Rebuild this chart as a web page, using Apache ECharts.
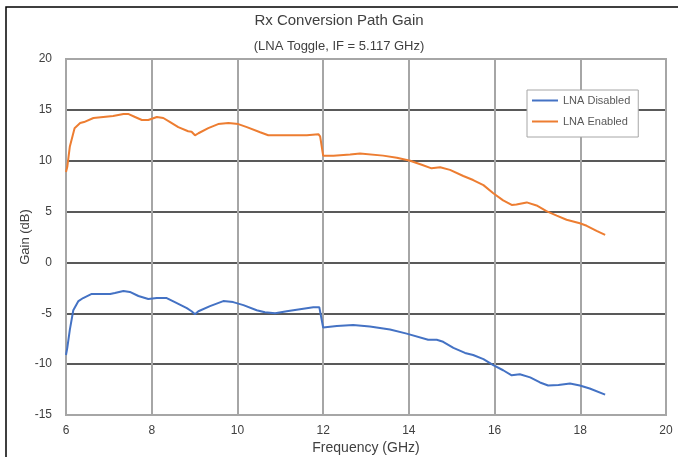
<!DOCTYPE html>
<html>
<head>
<meta charset="utf-8">
<title>Rx Conversion Path Gain</title>
<script src="https://cdn.jsdelivr.net/npm/echarts@6/dist/echarts.min.js"></script>
<style>
  html, body { margin: 0; padding: 0; background: #fff; }
  #chart { width: 678px; height: 457px; }
</style>
</head>
<body>
<div id="chart"></div>
<script>
// data (GHz, dB)
var enabledFreq = [6.0, 6.03, 6.09, 6.2, 6.33, 6.42, 6.64, 6.87, 7.1, 7.34, 7.45, 7.61, 7.77, 7.92, 8.12, 8.27, 8.43, 8.62, 8.85, 8.93, 9.01, 9.09, 9.32, 9.55, 9.79, 10.02, 10.22, 10.53, 10.72, 11.15, 11.62, 11.89, 11.93, 12.0, 12.24, 12.63, 12.86, 13.4, 13.72, 14.03, 14.3, 14.53, 14.73, 14.96, 15.27, 15.5, 15.74, 15.97, 16.2, 16.4, 16.51, 16.75, 16.98, 17.21, 17.45, 17.68, 17.99, 18.15, 18.38, 18.58];
var enabledGain = [8.9, 9.4, 11.4, 13.2, 13.7, 13.8, 14.2, 14.3, 14.4, 14.6, 14.6, 14.3, 14.0, 14.0, 14.3, 14.2, 13.8, 13.3, 12.9, 12.85, 12.5, 12.7, 13.2, 13.6, 13.7, 13.6, 13.3, 12.8, 12.5, 12.5, 12.5, 12.6, 12.4, 10.5, 10.5, 10.6, 10.7, 10.5, 10.3, 10.0, 9.6, 9.25, 9.35, 9.1, 8.5, 8.1, 7.6, 6.8, 6.1, 5.65, 5.7, 5.9, 5.6, 5.05, 4.6, 4.2, 3.85, 3.6, 3.1, 2.7];

var disabledFreq = [6.0, 6.03, 6.09, 6.17, 6.29, 6.4, 6.6, 6.79, 7.03, 7.14, 7.34, 7.49, 7.69, 7.92, 8.12, 8.35, 8.54, 8.82, 8.93, 9.01, 9.09, 9.36, 9.67, 9.9, 10.14, 10.45, 10.64, 10.88, 11.15, 11.46, 11.77, 11.91, 12.0, 12.32, 12.7, 13.09, 13.56, 13.95, 14.45, 14.65, 14.8, 15.04, 15.31, 15.5, 15.74, 15.97, 16.2, 16.4, 16.59, 16.83, 17.06, 17.25, 17.49, 17.76, 17.99, 18.22, 18.58];
var disabledGain = [-9.1, -8.4, -6.6, -4.7, -3.8, -3.5, -3.1, -3.1, -3.1, -3.0, -2.8, -2.9, -3.3, -3.6, -3.5, -3.5, -3.9, -4.5, -4.8, -5.1, -4.8, -4.3, -3.8, -3.9, -4.2, -4.7, -4.9, -5.0, -4.8, -4.6, -4.4, -4.4, -6.4, -6.25, -6.15, -6.3, -6.6, -7.0, -7.6, -7.6, -7.8, -8.4, -8.9, -9.1, -9.5, -10.1, -10.6, -11.1, -11.0, -11.3, -11.8, -12.1, -12.05, -11.9, -12.1, -12.4, -13.0];

var seriesNames = ['LNA Disabled', 'LNA Enabled'];

function pairs(xs, ys) {
	var out = [];
	for (var i = 0; i < xs.length; i++) out.push([xs[i], ys[i]]);
	return out;
}

var font = "'Liberation Sans Narrow', 'Liberation Sans', Arial, sans-serif";

var myChart = echarts.init(document.getElementById('chart'));
var option = {
	backgroundColor: '#fff',
	textStyle: { fontFamily: font },
	graphic: [{
		type: 'rect',
		shape: { x: 6, y: 7, width: 700, height: 500 },
		style: { fill: 'none', stroke: '#000', lineWidth: 1.5 },
		silent: true
	}],
	title: [{
		text: 'Rx Conversion Path Gain',
		left: 'center',
		top: 8,
		textStyle: { fontFamily: font, fontSize: 15, fontWeight: 'normal', color: '#404040' }
	}, {
		text: '(LNA Toggle, IF = 5.117 GHz)',
		left: 'center',
		top: 35,
		textStyle: { fontFamily: font, fontSize: 13, fontWeight: 'normal', color: '#404040' }
	}],
	legend: {
		data: seriesNames,
		orient: 'vertical',
		left: 527,
		top: 90,
		padding: [5, 8, 10, 5],
		itemGap: 10,
		icon: 'rect',
		itemWidth: 26,
		itemHeight: 2,
		backgroundColor: '#fff',
		borderColor: '#a6a6a6',
		borderWidth: 1,
		textStyle: { fontFamily: font, fontSize: 11, color: '#595959' }
	},
	grid: {
		left: 66,
		right: 12,
		top: 59,
		bottom: 42,
		outerBoundsMode: 'none',
		show: true,
		borderColor: '#a6a6a6',
		borderWidth: 2
	},
	xAxis: {
		type: 'value',
		min: 6,
		max: 20,
		interval: 2,
		name: 'Frequency (GHz)',
		nameLocation: 'middle',
		nameGap: 26,
		nameMoveOverlap: false,
		nameTextStyle: { fontFamily: font, fontSize: 14, color: '#404040' },
		axisLine: { show: false },
		axisTick: { show: false },
		axisLabel: { margin: 10, fontFamily: font, fontSize: 12, color: '#404040' },
		splitLine: { show: true, lineStyle: { color: '#a6a6a6', width: 2 } }
	},
	yAxis: {
		type: 'value',
		min: -15,
		max: 20,
		interval: 5,
		name: 'Gain (dB)',
		nameLocation: 'middle',
		nameGap: 34,
		nameMoveOverlap: false,
		nameTextStyle: { fontFamily: font, fontSize: 13, color: '#404040' },
		axisLine: { show: false },
		axisTick: { show: false },
		axisLabel: { margin: 14, fontFamily: font, fontSize: 12, color: '#404040' },
		splitLine: { show: true, showMinLine: false, showMaxLine: false, lineStyle: { color: '#595959', width: 2 } }
	},
	series: [{
		name: seriesNames[0],
		type: 'line',
		showSymbol: false,
		symbol: 'none',
		color: '#4472c4',
		lineStyle: { width: 2, color: '#4472c4' },
		data: pairs(disabledFreq, disabledGain)
	}, {
		name: seriesNames[1],
		type: 'line',
		showSymbol: false,
		symbol: 'none',
		color: '#ed7d31',
		lineStyle: { width: 2, color: '#ed7d31' },
		data: pairs(enabledFreq, enabledGain)
	}]
};
myChart.setOption(option);
</script>
</body>
</html>
